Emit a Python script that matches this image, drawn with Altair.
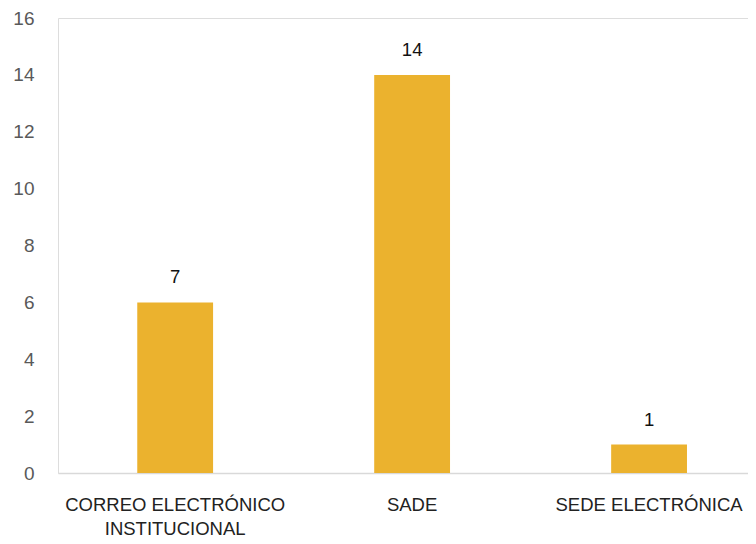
import altair as alt
import pandas as pd

categories = ["CORREO ELECTRÓNICO INSTITUCIONAL", "SADE", "SEDE ELECTRÓNICA"]
bar_values = [6, 14, 1]
label_texts = ["7", "14", "1"]

df = pd.DataFrame({"cat": categories, "value": bar_values, "label": label_texts})

FONT = "Liberation Sans"

x = alt.X("cat:N", sort=categories, title=None,
          scale=alt.Scale(paddingInner=0.68, paddingOuter=0.296, align=0.565),
          axis=alt.Axis(labelAngle=0, labelFontSize=18.5, labelColor="#222222", labelFont=FONT,
                        labelPadding=22, labelLineHeight=24, labelLimit=0, ticks=False,
                        domainColor="#D9D9D9", domainWidth=1.5,
                        labelExpr="datum.label == 'CORREO ELECTRÓNICO INSTITUCIONAL' ? ['CORREO ELECTRÓNICO', 'INSTITUCIONAL'] : datum.label"))
y = alt.Y("value:Q", title=None,
          scale=alt.Scale(domain=[0, 16]),
          axis=alt.Axis(values=list(range(0, 17, 2)), grid=False, domain=False, ticks=False,
                        labelFontSize=19, labelColor="#595959", labelFont=FONT, labelPadding=24))

bars = alt.Chart(df).mark_bar(color="#EBB22E").encode(x=x, y=y)
text = alt.Chart(df).mark_text(dy=-15, baseline="bottom", fontSize=18.5, font=FONT, color="#111111").encode(
    x=alt.X("cat:N", sort=categories), y="value:Q", text="label:N")

chart = (bars + text).properties(
    width=690, height=455,
    padding={"left": 4, "top": 1, "right": 0, "bottom": 0}
).configure_view(stroke=None).configure(background="white")

chart.save("out.html", embed_options={"renderer": "svg", "actions": False})
